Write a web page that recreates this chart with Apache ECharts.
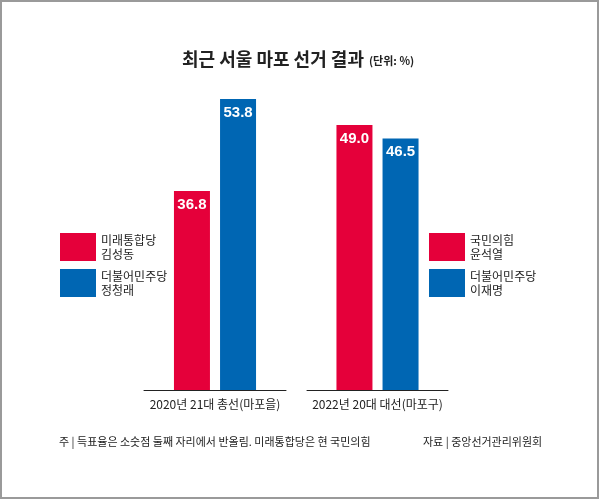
<!DOCTYPE html>
<html>
<head>
<meta charset="utf-8">
<script src="https://cdn.jsdelivr.net/npm/echarts@6/dist/echarts.min.js"></script>
<style>
  html, body { margin: 0; padding: 0; background: #fff; }
  #chart { width: 600px; height: 500px; }
</style>
</head>
<body>
<div id="chart"></div>
<script>
// data
var elections = ['2020년 21대 총선(마포을)', '2022년 20대 대선(마포구)'];
var candidates2020 = ['미래통합당\n김성동', '더불어민주당\n정청래'];
var candidates2022 = ['국민의힘\n윤석열', '더불어민주당\n이재명'];
var votes2020 = [36.8, 53.8];
var votes2022 = [49.0, 46.5];

var RED = '#e5003a', BLUE = '#0066b3';
var KR = '"Noto Sans CJK KR", sans-serif';

var chart = echarts.init(document.getElementById('chart'));

function bar(name, value, color, idx) {
    return {
        name: name,
        type: 'bar',
        xAxisIndex: idx,
        yAxisIndex: idx,
        barWidth: 36,
        barGap: '28%',
        itemStyle: { color: color },
        label: {
            show: true,
            position: 'insideTop',
            distance: 6,
            color: '#fff',
            fontFamily: '"Liberation Sans Narrow", "Liberation Sans", sans-serif',
            fontWeight: 'bold',
            fontSize: 15,
            formatter: function (p) { return p.value.toFixed(1); }
        },
        data: [value]
    };
}

function legend(names, left) {
    return {
        data: names,
        orient: 'vertical',
        left: left,
        top: 233,
        padding: 0,
        itemWidth: 36,
        itemHeight: 28,
        itemGap: 8,
        icon: 'rect',
        selectedMode: false,
        textStyle: { fontFamily: KR, fontSize: 12, color: '#222', lineHeight: 14 }
    };
}

var option = {
    animation: false,
    backgroundColor: '#fff',
    title: {
        text: '{a|최근 서울 마포 선거 결과} {b|(단위: %)}',
        left: 182,
        top: 50,
        padding: 0,
        textStyle: {
            rich: {
                a: { fontFamily: KR, fontSize: 18, fontWeight: 'bold', color: '#222' },
                b: { fontFamily: KR, fontSize: 11, color: '#222', padding: [3, 0, 0, 0] }
            }
        }
    },
    legend: [legend(candidates2020, 60), legend(candidates2022, 429)],
    grid: [
        { left: 144, width: 142, top: 65.4, bottom: 110 },
        { left: 307, width: 141, top: 65.4, bottom: 110 }
    ],
    xAxis: [0, 1].map(function (i) {
        return {
            type: 'category',
            gridIndex: i,
            data: [elections[i]],
            axisLine: { lineStyle: { color: '#222', width: 1 } },
            axisTick: { show: false },
            axisLabel: { fontFamily: KR, fontSize: 12, color: '#222', margin: 8 }
        };
    }),
    yAxis: [0, 1].map(function (i) {
        return { type: 'value', gridIndex: i, min: 0, max: 60, show: false };
    }),
    series: [
        bar(candidates2020[0], votes2020[0], RED, 0),
        bar(candidates2020[1], votes2020[1], BLUE, 0),
        bar(candidates2022[0], votes2022[0], RED, 1),
        bar(candidates2022[1], votes2022[1], BLUE, 1)
    ],
    graphic: [
        {
            type: 'rect',
            shape: { x: 1, y: 1, width: 597, height: 497 },
            style: { fill: 'none', stroke: '#9a9a9a', lineWidth: 2 },
            silent: true
        },
        {
            type: 'text',
            left: 59,
            top: 436,
            style: { text: '주 | 득표율은 소숫점 둘째 자리에서 반올림. 미래통합당은 현 국민의힘', font: '11px ' + KR, fill: '#222' }
        },
        {
            type: 'text',
            left: 423,
            top: 436,
            style: { text: '자료 | 중앙선거관리위원회', font: '11px ' + KR, fill: '#222' }
        }
    ]
};

chart.setOption(option);
</script>
</body>
</html>
